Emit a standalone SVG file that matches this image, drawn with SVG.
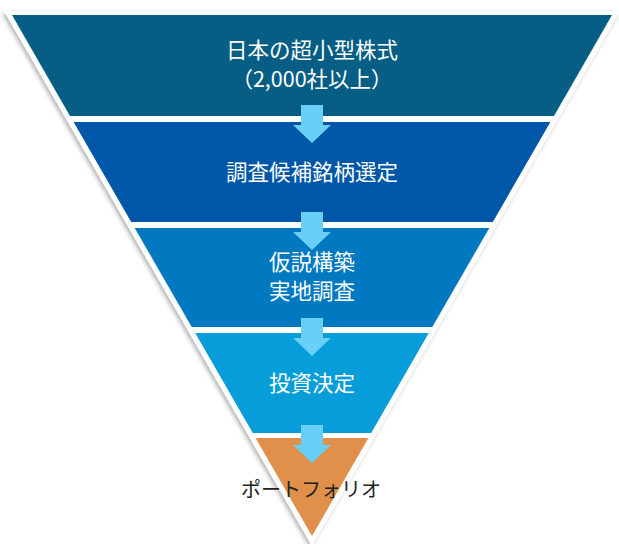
<svg xmlns="http://www.w3.org/2000/svg" width="619" height="544" viewBox="0 0 619 544">
  <defs>
    <filter id="shadow" x="-5%" y="-5%" width="110%" height="110%">
      <feDropShadow dx="-2" dy="2" stdDeviation="2" flood-color="#000" flood-opacity="0.3"/>
    </filter>
  </defs>
  <style>
    .lbl { font-family: "Noto Sans CJK JP", "Noto Sans", sans-serif; font-size: 21.5px; fill: #ffffff; text-anchor: middle; }
    .lbl-dark { font-family: "Noto Sans CJK JP", "Noto Sans", sans-serif; font-size: 20px; fill: #222222; text-anchor: middle; }
    .arrow { fill: #6ACFF6; }
  </style>
  <rect width="619" height="544" fill="#ffffff"/>
  <polygon points="4,11 620,11 312,546" fill="#ffffff" filter="url(#shadow)"/>

  <g id="node-universe">
    <polygon points="12,15 612,15 554,116 70,116" fill="#065E84"/>
    <text class="lbl" x="312" y="58">日本の超小型株式</text>
    <text class="lbl" x="312" y="87">（2,000社以上）</text>
  </g>
  <g id="node-screening">
    <polygon points="73.6,122 550.4,122 492.8,222 131.2,222" fill="#0057A8"/>
    <text class="lbl" x="312" y="180">調査候補銘柄選定</text>
  </g>
  <g id="node-research">
    <polygon points="134.7,228 489.3,228 432.3,327 191.7,327" fill="#0079C1"/>
    <text class="lbl" x="312" y="270">仮説構築</text>
    <text class="lbl" x="312" y="299">実地調査</text>
  </g>
  <g id="node-decision">
    <polygon points="195.2,333 428.8,333 371.2,433 252.8,433" fill="#079DD9"/>
    <text class="lbl" x="312" y="391">投資決定</text>
  </g>
  <g id="node-portfolio">
    <polygon points="255.6,438 368.4,438 312,536" fill="#E0904A"/>
  </g>

  <g id="connectors">
    <path class="arrow" d="M301,105 L323,105 L323,125 L331,125 L312,143 L293,125 L301,125 Z"/>
    <path class="arrow" d="M301,212 L323,212 L323,232 L331,232 L312,250 L293,232 L301,232 Z"/>
    <path class="arrow" d="M301,318 L323,318 L323,338 L331,338 L312,356 L293,338 L301,338 Z"/>
    <path class="arrow" d="M301,425 L323,425 L323,445 L331,445 L312,463 L293,445 L301,445 Z"/>
  </g>

  <text class="lbl-dark" x="311" y="497">ポートフォリオ</text>
</svg>
